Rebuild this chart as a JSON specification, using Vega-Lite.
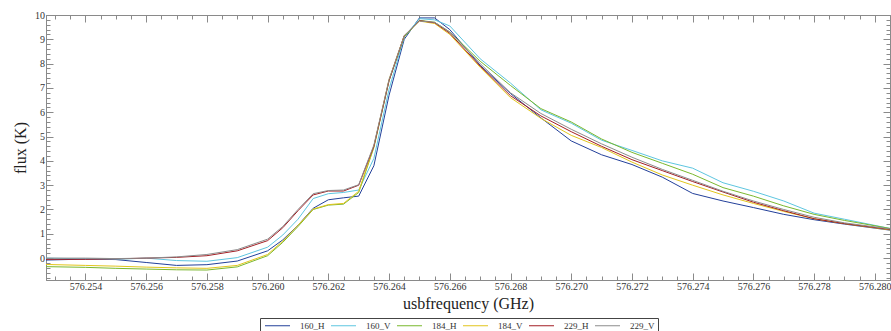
{
  "$schema": "https://vega.github.io/schema/vega-lite/v6.json",
  "width": 844,
  "height": 265,
  "autosize": {"type": "none"},
  "padding": {"left": 46, "top": 15, "right": 1, "bottom": 51},
  "background": "white",
  "config": {
    "view": {"stroke": "#8a8a8a", "strokeWidth": 1},
    "font": "Liberation Serif",
    "axis": {
      "grid": false,
      "domainColor": "#8a8a8a",
      "tickColor": "#8a8a8a",
      "labelColor": "#333333",
      "titleColor": "#222222",
      "labelFont": "Liberation Serif",
      "titleFont": "Liberation Serif",
      "labelFontSize": 10,
      "titleFontSize": 16,
      "titleFontWeight": "normal",
      "labelOverlap": false,
      "labelFlush": false
    },
    "legend": {
      "labelFont": "Liberation Serif",
      "labelFontSize": 9,
      "labelColor": "#333333"
    }
  },
  "data": {
    "values": [
      {"f": 576.2527, "160_H": -0.08, "160_V": 0.0, "184_H": -0.35, "184_V": -0.26, "229_H": -0.05, "229_V": 0.0},
      {"f": 576.2540, "160_H": -0.04, "160_V": -0.03, "184_H": -0.38, "184_V": -0.3, "229_H": -0.05, "229_V": 0.0},
      {"f": 576.2550, "160_H": -0.06, "160_V": -0.05, "184_H": -0.42, "184_V": -0.33, "229_H": -0.03, "229_V": -0.02},
      {"f": 576.2560, "160_H": -0.18, "160_V": 0.0, "184_H": -0.45, "184_V": -0.37, "229_H": 0.0, "229_V": 0.0},
      {"f": 576.2570, "160_H": -0.3, "160_V": -0.1, "184_H": -0.48, "184_V": -0.4, "229_H": 0.03, "229_V": 0.05},
      {"f": 576.2580, "160_H": -0.27, "160_V": -0.13, "184_H": -0.49, "184_V": -0.42, "229_H": 0.1, "229_V": 0.15},
      {"f": 576.2590, "160_H": -0.12, "160_V": 0.02, "184_H": -0.36, "184_V": -0.3, "229_H": 0.3, "229_V": 0.35},
      {"f": 576.2600, "160_H": 0.3, "160_V": 0.45, "184_H": 0.1, "184_V": 0.15, "229_H": 0.72, "229_V": 0.78},
      {"f": 576.2605, "160_H": 0.75, "160_V": 0.95, "184_H": 0.65, "184_V": 0.7, "229_H": 1.25, "229_V": 1.3},
      {"f": 576.2610, "160_H": 1.35, "160_V": 1.6, "184_H": 1.3, "184_V": 1.35, "229_H": 1.95, "229_V": 2.0},
      {"f": 576.2615, "160_H": 2.05, "160_V": 2.45, "184_H": 2.0, "184_V": 2.02, "229_H": 2.6, "229_V": 2.65},
      {"f": 576.2620, "160_H": 2.4, "160_V": 2.65, "184_H": 2.18, "184_V": 2.2, "229_H": 2.76, "229_V": 2.78},
      {"f": 576.2625, "160_H": 2.48, "160_V": 2.7, "184_H": 2.22, "184_V": 2.25, "229_H": 2.76, "229_V": 2.8},
      {"f": 576.2630, "160_H": 2.55, "160_V": 2.8, "184_H": 2.7, "184_V": 2.75, "229_H": 3.0, "229_V": 3.02},
      {"f": 576.2635, "160_H": 3.8, "160_V": 4.1, "184_H": 4.55, "184_V": 4.6, "229_H": 4.6, "229_V": 4.65},
      {"f": 576.2640, "160_H": 6.7, "160_V": 6.95, "184_H": 7.3, "184_V": 7.35, "229_H": 7.3, "229_V": 7.35},
      {"f": 576.2645, "160_H": 9.0, "160_V": 9.1, "184_H": 9.1, "184_V": 9.15, "229_H": 9.15, "229_V": 9.15},
      {"f": 576.2650, "160_H": 9.88, "160_V": 9.85, "184_H": 9.78, "184_V": 9.75, "229_H": 9.77, "229_V": 9.75},
      {"f": 576.2655, "160_H": 9.88, "160_V": 9.8, "184_H": 9.7, "184_V": 9.65, "229_H": 9.68, "229_V": 9.7},
      {"f": 576.2660, "160_H": 9.4, "160_V": 9.55, "184_H": 9.3, "184_V": 9.2, "229_H": 9.25, "229_V": 9.3},
      {"f": 576.2670, "160_H": 7.93, "160_V": 8.2, "184_H": 8.1, "184_V": 7.85, "229_H": 7.9, "229_V": 8.0},
      {"f": 576.2680, "160_H": 6.77, "160_V": 7.2, "184_H": 7.1, "184_V": 6.6, "229_H": 6.68, "229_V": 6.8},
      {"f": 576.2690, "160_H": 5.77, "160_V": 6.1, "184_H": 6.15, "184_V": 5.75, "229_H": 5.85, "229_V": 5.95},
      {"f": 576.2700, "160_H": 4.82, "160_V": 5.55, "184_H": 5.6, "184_V": 5.05, "229_H": 5.2, "229_V": 5.3},
      {"f": 576.2710, "160_H": 4.25, "160_V": 4.85, "184_H": 4.9, "184_V": 4.55, "229_H": 4.6, "229_V": 4.7},
      {"f": 576.2720, "160_H": 3.85, "160_V": 4.43, "184_H": 4.35, "184_V": 3.95, "229_H": 4.05, "229_V": 4.15},
      {"f": 576.2730, "160_H": 3.33, "160_V": 4.0, "184_H": 3.9, "184_V": 3.42, "229_H": 3.6, "229_V": 3.65},
      {"f": 576.2740, "160_H": 2.66, "160_V": 3.7, "184_H": 3.45, "184_V": 3.0, "229_H": 3.15, "229_V": 3.2},
      {"f": 576.2750, "160_H": 2.35, "160_V": 3.1, "184_H": 2.9, "184_V": 2.6, "229_H": 2.72, "229_V": 2.75},
      {"f": 576.2760, "160_H": 2.08, "160_V": 2.75, "184_H": 2.55, "184_V": 2.25, "229_H": 2.3, "229_V": 2.35},
      {"f": 576.2770, "160_H": 1.8, "160_V": 2.35, "184_H": 2.15, "184_V": 1.92, "229_H": 1.95, "229_V": 2.0},
      {"f": 576.2780, "160_H": 1.58, "160_V": 1.85, "184_H": 1.8, "184_V": 1.62, "229_H": 1.62, "229_V": 1.68},
      {"f": 576.2790, "160_H": 1.4, "160_V": 1.6, "184_H": 1.55, "184_V": 1.42, "229_H": 1.42, "229_V": 1.45},
      {"f": 576.2805, "160_H": 1.15, "160_V": 1.22, "184_H": 1.22, "184_V": 1.16, "229_H": 1.18, "229_V": 1.2}
    ]
  },
  "transform": [
    {"fold": ["160_H", "160_V", "184_H", "184_V", "229_H", "229_V"], "as": ["series", "flux"]}
  ],
  "layer": [
    {
      "mark": {"type": "line", "strokeWidth": 1, "clip": true},
      "encoding": {
        "x": {
          "field": "f",
          "type": "quantitative",
          "scale": {"domain": [576.2527, 576.2805], "nice": false, "zero": false},
          "axis": {
            "orient": "bottom",
            "title": "usbfrequency (GHz)",
            "values": [576.253, 576.2535, 576.254, 576.2545, 576.255, 576.2555, 576.256, 576.2565, 576.257, 576.2575, 576.258, 576.2585, 576.259, 576.2595, 576.26, 576.2605, 576.261, 576.2615, 576.262, 576.2625, 576.263, 576.2635, 576.264, 576.2645, 576.265, 576.2655, 576.266, 576.2665, 576.267, 576.2675, 576.268, 576.2685, 576.269, 576.2695, 576.27, 576.2705, 576.271, 576.2715, 576.272, 576.2725, 576.273, 576.2735, 576.274, 576.2745, 576.275, 576.2755, 576.276, 576.2765, 576.277, 576.2775, 576.278, 576.2785, 576.279, 576.2795, 576.28, 576.2805],
            "labelExpr": "abs(datum.value*500 - round(datum.value*500)) < 0.01 ? format(datum.value, '.3f') : ''",
            "tickSize": {"condition": {"test": "abs(datum.value*500 - round(datum.value*500)) < 0.01", "value": -7}, "value": -4},
            "labelPadding": 8,
            "titlePadding": 1
          }
        },
        "y": {
          "field": "flux",
          "type": "quantitative",
          "scale": {"domain": [-0.9, 10], "nice": false, "zero": false},
          "axis": {
            "orient": "left",
            "title": "flux (K)",
            "values": [-0.8, -0.6, -0.4, -0.2, 0, 0.2, 0.4, 0.6, 0.8, 1, 1.2, 1.4, 1.6, 1.8, 2, 2.2, 2.4, 2.6, 2.8, 3, 3.2, 3.4, 3.6, 3.8, 4, 4.2, 4.4, 4.6, 4.8, 5, 5.2, 5.4, 5.6, 5.8, 6, 6.2, 6.4, 6.6, 6.8, 7, 7.2, 7.4, 7.6, 7.8, 8, 8.2, 8.4, 8.6, 8.8, 9, 9.2, 9.4, 9.6, 9.8, 10],
            "labelExpr": "abs(datum.value - round(datum.value)) < 0.01 ? format(datum.value, 'd') : ''",
            "tickSize": {"condition": {"test": "abs(datum.value - round(datum.value)) < 0.01", "value": -7}, "value": -4},
            "labelPadding": 8.5,
            "titlePadding": 6
          }
        },
        "color": {
          "field": "series",
          "type": "nominal",
          "scale": {
            "domain": ["160_H", "160_V", "184_H", "184_V", "229_H", "229_V"],
            "range": ["#23409a", "#5ec6e0", "#7ab82e", "#e2c51c", "#a31e24", "#8c8c8c"]
          },
          "legend": {
            "title": null,
            "orient": "none",
            "legendX": 214,
            "legendY": 303,
            "direction": "horizontal",
            "columns": 6,
            "symbolType": "M-5,0H5",
            "symbolSize": 25,
            "symbolStrokeWidth": 1,
            "symbolOffset": 10,
            "labelOffset": 18,
            "columnPadding": 4,
            "padding": 3,
            "strokeColor": "#444444"
          }
        }
      }
    },
    {
      "mark": {"type": "line", "opacity": 0},
      "encoding": {
        "x": {
          "field": "f",
          "type": "quantitative",
          "axis": {
            "orient": "top",
            "title": null,
            "labels": false,
            "values": [576.253, 576.2535, 576.254, 576.2545, 576.255, 576.2555, 576.256, 576.2565, 576.257, 576.2575, 576.258, 576.2585, 576.259, 576.2595, 576.26, 576.2605, 576.261, 576.2615, 576.262, 576.2625, 576.263, 576.2635, 576.264, 576.2645, 576.265, 576.2655, 576.266, 576.2665, 576.267, 576.2675, 576.268, 576.2685, 576.269, 576.2695, 576.27, 576.2705, 576.271, 576.2715, 576.272, 576.2725, 576.273, 576.2735, 576.274, 576.2745, 576.275, 576.2755, 576.276, 576.2765, 576.277, 576.2775, 576.278, 576.2785, 576.279, 576.2795, 576.28, 576.2805],
            "tickSize": {"condition": {"test": "abs(datum.value*500 - round(datum.value*500)) < 0.01", "value": -7}, "value": -4}
          }
        },
        "y": {
          "field": "flux",
          "type": "quantitative",
          "axis": {
            "orient": "right",
            "title": null,
            "labels": false,
            "values": [-0.8, -0.6, -0.4, -0.2, 0, 0.2, 0.4, 0.6, 0.8, 1, 1.2, 1.4, 1.6, 1.8, 2, 2.2, 2.4, 2.6, 2.8, 3, 3.2, 3.4, 3.6, 3.8, 4, 4.2, 4.4, 4.6, 4.8, 5, 5.2, 5.4, 5.6, 5.8, 6, 6.2, 6.4, 6.6, 6.8, 7, 7.2, 7.4, 7.6, 7.8, 8, 8.2, 8.4, 8.6, 8.8, 9, 9.2, 9.4, 9.6, 9.8, 10],
            "tickSize": {"condition": {"test": "abs(datum.value - round(datum.value)) < 0.01", "value": -7}, "value": -4}
          }
        },
        "detail": {"field": "series"}
      }
    }
  ],
  "resolve": {"axis": {"x": "independent", "y": "independent"}}
}
